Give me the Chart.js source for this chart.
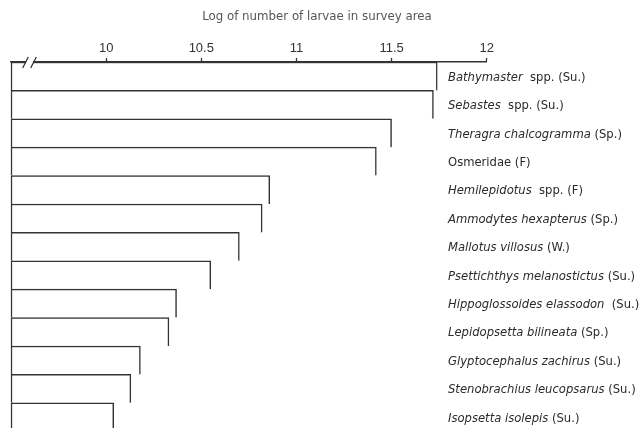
<!DOCTYPE html>
<html>
<head>
<meta charset="utf-8">
<script src="https://cdn.jsdelivr.net/npm/chart.js@4"></script>
<style>
html,body{margin:0;padding:0;background:#fff;overflow:hidden;}
#wrap{width:644px;height:440px;}
</style>
</head>
<body>
<div id="wrap"><canvas id="c" width="644" height="440"></canvas></div>
<script>
// ---- data ----
const categories = [
  "Bathymaster  spp. (Su.)",
  "Sebastes  spp. (Su.)",
  "Theragra chalcogramma (Sp.)",
  "Osmeridae (F)",
  "Hemilepidotus  spp. (F)",
  "Ammodytes hexapterus (Sp.)",
  "Mallotus villosus (W.)",
  "Psettichthys melanostictus (Su.)",
  "Hippoglossoides elassodon  (Su.)",
  "Lepidopsetta bilineata (Sp.)",
  "Glyptocephalus zachirus (Su.)",
  "Stenobrachius leucopsarus (Su.)",
  "Isopsetta isolepis (Su.)"
];
const italicParts = [
  "Bathymaster", "Sebastes", "Theragra chalcogramma", "",
  "Hemilepidotus", "Ammodytes hexapterus", "Mallotus villosus",
  "Psettichthys melanostictus", "Hippoglossoides elassodon",
  "Lepidopsetta bilineata", "Glyptocephalus zachirus",
  "Stenobrachius leucopsarus", "Isopsetta isolepis"
];
const logLarvae = [11.74, 11.72, 11.50, 11.42, 10.86, 10.82, 10.70, 10.55, 10.37, 10.33, 10.18, 10.13, 10.04];
const tickValues = [10, 10.5, 11, 11.5, 12];
const tickLabels = ["10", "10.5", "11", "11.5", "12"];
const axisMin = 9.5, axisMax = 12;
const axisTitle = "Log of number of larvae in survey area";

const INK = '#333333';
const FONT = '"DejaVu Sans", "Liberation Sans", Arial, sans-serif';

const decorPlugin = {
  id: 'decor',
  afterDraw(chart) {
    const ctx = chart.ctx;
    const ys = chart.scales.y;
    const ca = chart.chartArea;
    ctx.save();
    // title
    ctx.fillStyle = '#555';
    ctx.font = '11.8px ' + FONT;
    ctx.textAlign = 'center';
    ctx.textBaseline = 'middle';
    ctx.fillText(axisTitle, 317, 17);
    // category labels
    ctx.textAlign = 'left';
    ctx.fillStyle = '#2a2a2a';
    categories.forEach((lab, i) => {
      const y = ys.getPixelForValue(i) + 1.5;
      let x = 448;
      const it = italicParts[i];
      if (it) {
        ctx.font = 'italic 11.6px ' + FONT;
        ctx.fillText(it, x, y);
        x += ctx.measureText(it).width;
      }
      ctx.font = '11.6px ' + FONT;
      ctx.fillText(lab.slice(it.length), x, y);
    });
    // axis break "//"
    const ay = ca.top;
    ctx.fillStyle = '#fff';
    ctx.fillRect(26, ay - 2, 7, 4);
    ctx.strokeStyle = INK;
    ctx.lineWidth = 1.3;
    ctx.beginPath();
    ctx.moveTo(22.7, ay + 6); ctx.lineTo(28.3, ay - 5);
    ctx.moveTo(30.7, ay + 6); ctx.lineTo(36.3, ay - 5);
    ctx.stroke();
    ctx.restore();
  }
};

new Chart(document.getElementById('c'), {
  type: 'bar',
  data: {
    labels: categories,
    datasets: [{
      data: logLarvae.map(v => [axisMin, v]),
      backgroundColor: '#ffffff',
      borderColor: INK,
      borderWidth: {top: 1.5, right: 1.5, bottom: 0, left: 1.5},
      borderSkipped: false,
      barPercentage: 1,
      categoryPercentage: 1,
      clip: false
    }]
  },
  options: {
    indexAxis: 'y',
    responsive: false,
    animation: false,
    devicePixelRatio: 1,
    layout: {padding: {left: 11, right: 157.3, top: 0, bottom: 8.8}},
    plugins: {legend: {display: false}, tooltip: {enabled: false}, title: {display: false}},
    scales: {
      x: {
        type: 'linear',
        position: 'top',
        min: axisMin,
        max: axisMax,
        beginAtZero: false,
        afterBuildTicks(scale) { scale.ticks = tickValues.map(v => ({value: v})); },
        afterFit(scale) { scale.height = 62; },
        ticks: {
          autoSkip: false,
          maxRotation: 0,
          padding: 2,
          color: '#333',
          font: {family: '"Liberation Sans", Arial, sans-serif', size: 13},
          callback: (v) => tickLabels[tickValues.indexOf(v)] ?? ''
        },
        grid: {drawOnChartArea: false, drawTicks: true, tickLength: 4, tickColor: INK, tickWidth: 1.3},
        border: {display: true, color: INK, width: 1.5}
      },
      y: {
        type: 'category',
        display: false,
        offset: true
      }
    }
  },
  plugins: [decorPlugin]
});
</script>
</body>
</html>
